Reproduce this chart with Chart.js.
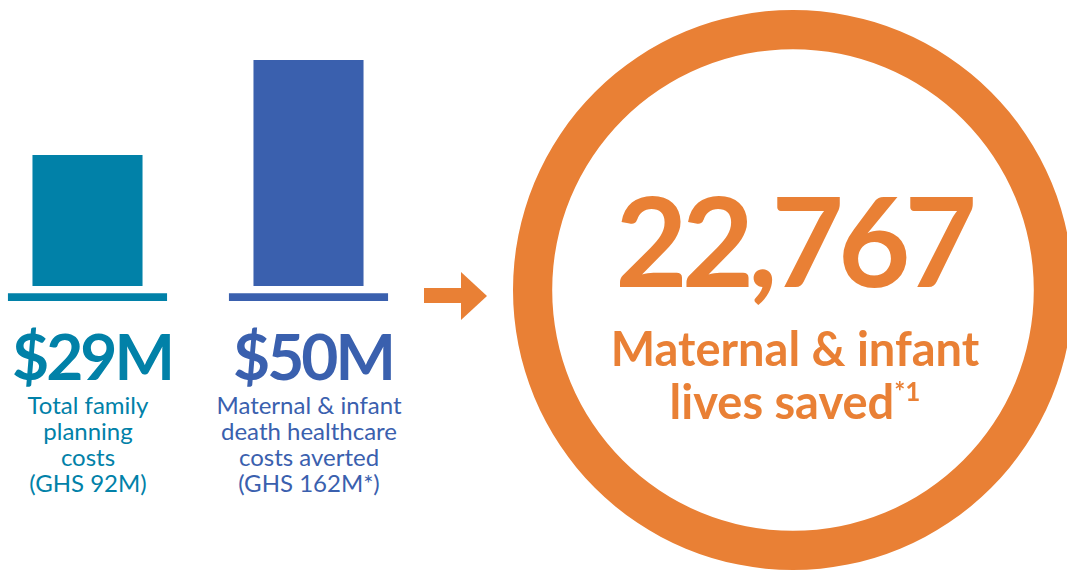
<!DOCTYPE html>
<html>
<head>
<meta charset="utf-8">
<script src="https://cdn.jsdelivr.net/npm/chart.js@4/dist/chart.umd.min.js"></script>
<style>
  html, body { margin:0; padding:0; width:1067px; height:574px; overflow:hidden; background:#fff; font-family: Lato, "Noto Sans", sans-serif; }
  #bars { position:absolute; left:-23px; top:0; }
  #ring { position:absolute; left:513px; top:10px; }
  .t { position:absolute; text-align:center; white-space:nowrap; }
  .big { font-weight:700; font-size:64px; line-height:64px; letter-spacing:-3px; }
  .lab { font-size:24px; line-height:26px; }
  .teal { color:#0181A8; }
  .blue { color:#3A60AE; }
  .orange { color:#E98035; }
</style>
</head>
<body>
<canvas id="bars" width="442" height="310"></canvas>
<canvas id="ring" width="560" height="560"></canvas>

<div class="t big teal" style="left:2px; width:180px; top:324px;">$29M</div>
<div class="t big blue" style="left:223px; width:180px; top:324px;">$50M</div>
<div class="t lab teal" style="left:-2px; width:180px; top:392px;">Total family<br>planning<br>costs<br>(GHS 92M)</div>
<div class="t lab blue" style="left:209px; width:200px; top:392px;">Maternal &amp; infant<br>death healthcare<br>costs averted<br>(GHS 162M*)</div>

<div style="position:absolute; left:424px; top:288px; width:38px; height:15px; background:#E98035;"></div>
<div style="position:absolute; left:461px; top:272px; width:0; height:0; border-left:26px solid #E98035; border-top:24px solid transparent; border-bottom:24px solid transparent;"></div>

<div class="t orange" style="left:593px; width:400px; top:177px; font-weight:700; font-size:125px; line-height:125px; letter-spacing:-6px;">22,767</div>
<div class="t orange" style="left:595px; width:400px; top:327px; font-weight:700; font-size:47px; line-height:43px;">Maternal &amp; infant<br>lives saved<span style="font-size:26px; vertical-align:18px;">*1</span></div>

<script>
const categories = ['Total family planning costs', 'Maternal & infant death healthcare costs averted'];
const costsUSDm = [29, 50];
const costsGHSm = [92, 162];
const baselineBand = [[-3.3, -1.6], [-3.3, -1.6]];
const livesSaved = [22767];
const barColors = ['#0181A8', '#3A60AE'];

new Chart(document.getElementById('bars'), {
  type: 'bar',
  data: {
    labels: categories,
    datasets: [
      { data: costsUSDm, backgroundColor: barColors, barPercentage: 0.498, categoryPercentage: 1, grouped: false, borderWidth: 0 },
      { data: baselineBand, backgroundColor: barColors, barPercentage: 0.72, categoryPercentage: 1, grouped: false, borderWidth: 0 }
    ]
  },
  options: {
    responsive: false, devicePixelRatio: 1, animation: false,
    layout: { padding: 0 },
    plugins: { legend: { display: false }, tooltip: { enabled: false } },
    scales: {
      x: { display: false },
      y: { display: false, min: -5.3, max: 63.3 }
    }
  }
});

new Chart(document.getElementById('ring'), {
  type: 'doughnut',
  data: { labels: ['Maternal & infant lives saved'], datasets: [{ data: livesSaved, backgroundColor: ['#E98035'], borderWidth: 0 }] },
  options: {
    responsive: false, devicePixelRatio: 1, animation: false,
    cutout: '86%',
    layout: { padding: 0 },
    plugins: { legend: { display: false }, tooltip: { enabled: false } }
  }
});
</script>
</body>
</html>
